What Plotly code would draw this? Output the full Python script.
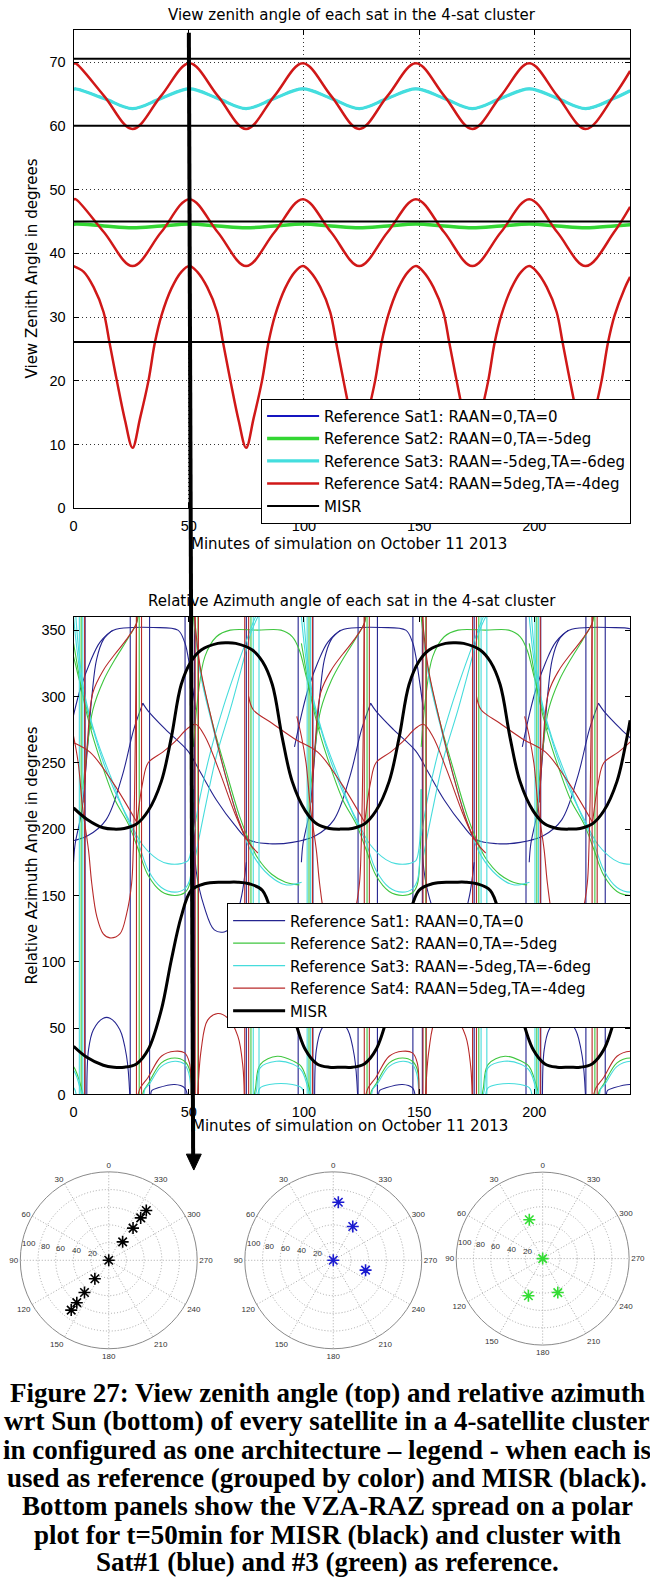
import plotly.graph_objects as go

W, H = 650, 1581
def px(x): return x / W
def py(y): return 1 - y / H

# ---------------- Top panel (view zenith angle) ----------------
TOP_T = [0, 0.8, 13.2, 25.6, 38.0, 50.3, 62.6, 74.9, 87.2, 99.5, 111.8, 124.0,
         136.3, 148.6, 160.9, 173.1, 185.5, 197.8, 210.0, 222.3, 234.6, 241.6]
RED_A = [69.7, 69.8, 64.7, 59.5, 64.7, 69.8, 64.7, 59.5, 64.7, 69.8, 64.7, 59.5,
         64.7, 69.8, 64.7, 59.5, 64.7, 69.8, 64.7, 59.5, 64.7, 68.6]
RED_B = [48.4, 48.5, 43.3, 38.0, 43.3, 48.5, 43.3, 38.0, 43.3, 48.5, 43.3, 38.0,
         43.3, 48.5, 43.3, 38.0, 43.3, 48.5, 43.3, 38.0, 43.3, 47.3]
CYAN_A = [65.7, 65.8, 64.3, 62.7, 64.3, 65.8, 64.3, 62.7, 64.3, 65.8, 64.3, 62.7,
          64.3, 65.8, 64.3, 62.7, 64.3, 65.8, 64.3, 62.7, 64.3, 65.5]
GREEN_A = [44.5, 44.6, 44.3, 44.0, 44.3, 44.6, 44.3, 44.0, 44.3, 44.6, 44.3, 44.0,
           44.3, 44.6, 44.3, 44.0, 44.3, 44.6, 44.3, 44.0, 44.3, 44.5]
RED_C_T = [0, 4.4, 8.7, 13.0, 15.6, 18.8, 22.4, 25.6, 28.9, 32.5, 35.3, 38.2, 42.5, 46.8, 50.3,
           53.7, 58.0, 62.3, 64.9, 68.1, 71.7, 74.9, 78.2, 81.8, 84.6, 87.5, 91.8, 96.1, 99.5,
           102.8, 107.1, 111.4, 114.0, 117.2, 120.8, 124.0, 127.3, 130.9, 133.7, 136.6, 140.9, 145.2, 148.6,
           151.9, 156.2, 160.5, 163.1, 166.3, 169.9, 173.1, 176.4, 180.0, 182.8, 185.7, 190.0, 194.3, 197.8,
           201.1, 205.4, 209.7, 212.3, 215.5, 219.1, 222.3, 225.6, 229.2, 232.0, 234.9, 239.2, 241.6]
RED_C = [38.0, 37.1, 34.7, 30.8, 26.0, 20.0, 13.7, 9.5, 14.2, 20.0, 26.0, 30.3, 34.5, 37.1, 38.0,
         37.1, 34.7, 30.8, 26.0, 20.0, 13.7, 9.5, 14.2, 20.0, 26.0, 30.3, 34.5, 37.1, 38.0,
         37.1, 34.7, 30.8, 26.0, 20.0, 13.7, 9.5, 14.2, 20.0, 26.0, 30.3, 34.5, 37.1, 38.0,
         37.1, 34.7, 30.8, 26.0, 20.0, 13.7, 9.5, 14.2, 20.0, 26.0, 30.3, 34.5, 37.1, 38.0,
         37.1, 34.7, 30.8, 26.0, 20.0, 13.7, 9.5, 14.2, 20.0, 26.0, 30.3, 34.5, 36.3]
MISR_VZA = [70.5, 60.0, 45.0, 26.1]
T_END = 241.6

# ---------------- Bottom panel (relative azimuth) ----------------
MISR_UP_T = [0, 5.75, 12.9, 17.5, 22, 27.3, 32.4, 38.1, 42.4, 46.7, 51, 55.4, 62.6, 66.5,
             70.4, 77.6, 82, 86.3, 90.6, 94.9, 100.6, 105.7, 111, 116.4,
             121, 126.2, 131.3, 137, 141.3, 145.6, 149.9, 154.3, 161.5, 165.4,
             169.3, 176.5, 180.9, 185.2, 189.5, 193.8, 199.5, 204.6, 209.9, 215.3,
             219.9, 225.1, 230.2, 235.9, 240.2, 241.6]
MISR_UP = [216, 207.5, 201, 200, 200.5, 203.8, 213.8, 236, 268.8, 308.8, 326.3, 335, 340, 340.5,
           340, 335, 326.3, 308.8, 268.8, 236, 213.8, 203.8, 200.5, 200,
           200.5, 203.8, 213.8, 236, 268.8, 308.8, 326.3, 335, 340, 340.5,
           340, 335, 326.3, 308.8, 268.8, 236, 213.8, 203.8, 200.5, 200,
           200.5, 203.8, 213.8, 236, 268.8, 282]
MISR_LO_T = [0, 5.75, 12.9, 17.5, 22, 27.3, 32.4, 38.1, 42.4, 46.7, 51, 56.8, 64, 66.5,
             71.3, 76.2, 82, 86.3, 90.6, 94.9, 100.6, 105.7, 111, 116.4,
             121, 126.2, 131.3, 137, 141.3, 145.6, 149.9, 155.7, 162.9, 165.4,
             170.2, 175.1, 180.9, 185.2, 189.5, 193.8, 199.5, 204.6, 209.9, 215.3,
             219.9, 225.1, 230.2, 235.9, 240.2, 241.6]
MISR_LO = [36.3, 28, 22, 20.5, 20.5, 23, 33.8, 63.8, 101, 133.8, 153.8, 158.8, 160, 160,
           160, 158.8, 153.8, 133.8, 101, 63.8, 33.8, 23, 20.5, 20.5,
           20.5, 23, 33.8, 63.8, 101, 133.8, 153.8, 158.8, 160, 160,
           160, 158.8, 153.8, 133.8, 101, 63.8, 33.8, 23, 20.5, 20.5,
           20.5, 23, 33.8, 63.8, 101, 106]

# the coloured pattern repeats once per orbit
ORBIT_STARTS = [-98.9, 0.0, 98.9, 197.8]

NAVY_SEGS = [
    ([-3, 0, 3, 7.2, 11.5, 17.3, 25.9, 34.5, 45.3, 48.2, 49.6, 51, 53],
     [262, 286, 306, 326, 341, 350, 352, 352, 350, 341, 331, 315, 290]),
    ([0.0, 0.7, 3.6, 5.8, 8, 10, 13, 17], [175, 189, 214, 256, 301, 328, 343, 350]),
    ([30, 32.4, 40, 49.6, 55, 62, 70, 76, 85, 95, 105, 113, 120, 125, 129],
     [295, 289, 275, 259, 243, 222, 203, 192, 189, 190, 195, 207, 240, 275, 295]),
    ([5.75, 6.5, 8.6, 12.9, 15.8, 20.1, 23, 24.4], [0, 33.8, 48.8, 57.5, 57.5, 48.8, 28.8, 0]),
    ([33.5, 34, 36.7, 43.9, 48.2, 49.3], [0, 3, 5, 7.5, 5, 0]),
    ([52.6, 53.2, 56.8, 61.1, 65.4, 68.3, 70.5, 73, 75], [200, 168.8, 141, 124, 122.5, 126, 133.8, 150, 175]),
]
NAVY_WRAPS = [5.0, 24.6, 33.0, 48.4, 52.5, 75.0, 97.5]

GREEN_SEGS = [
    ([0.0, 1.5, 4, 8, 13, 18, 24, 28, 32.4, 38.1, 43.9, 48.2, 50.3, 51.5, 52],
     [340, 325, 300, 272, 245, 222, 203, 185, 165, 153, 150, 152, 158, 180, 230]),
    ([4, 6, 8.4, 13, 18, 23, 27.3, 28], [230, 262, 290, 312, 328, 342, 355, 360]),
    ([52, 54, 57, 62, 68, 80, 90, 95, 98, 101, 104, 107], [262, 300, 330, 345, 350, 350, 350, 345, 335, 315, 295, 275]),
    ([30, 30.5, 32.4, 38.1, 43.9, 48.2, 50.3, 51], [0, 3, 8, 23.8, 27.5, 25, 18.8, 0]),
    ([78.5, 79, 81, 88.4, 95.6, 98.9, 102.5, 103], [0, 5, 22.5, 28.8, 25, 21, 3.8, 0]),
    ([52, 55, 60, 66, 72, 76, 80, 86, 92, 98], [360, 320, 282, 245, 210, 192, 178, 166, 160, 158]),
]
GREEN_WRAPS = [3.3, 28.5, 54.0, 77.0]

CYAN_SEGS = [
    ([0, 1.5, 4, 8, 13, 18, 24, 30, 36.7, 41, 46.7, 49.6, 51, 52],
     [360, 335, 305, 278, 250, 228, 207, 188, 177, 174, 174, 176, 185, 230]),
    ([1, 2.5, 5, 10, 16, 22, 28, 32.4, 38.1, 43.9, 48.2, 50.3, 51.5],
     [360, 330, 300, 268, 240, 213, 190, 169, 156, 152.5, 155, 161, 185]),
    ([52, 55, 60, 65, 70, 75, 78, 79], [195, 225, 262, 292, 318, 342, 356, 360]),
    ([53, 57, 62, 68, 73, 77, 80], [180, 215, 255, 290, 322, 348, 360]),
    ([30.5, 31, 33, 38, 44, 48, 50, 51], [0, 4, 8, 21, 25, 23, 16, 0]),
    ([79, 79.5, 81, 88, 95, 99, 102, 102.5], [0, 4, 20, 25, 23, 18, 3, 0]),
    ([80, 81, 85, 95, 99, 100], [0, 5, 7.5, 7.5, 5, 0]),
    ([52.5, 55, 60, 66, 72, 78, 85, 92, 99], [360, 318, 280, 240, 205, 180, 165, 158, 160]),
]
CYAN_WRAPS = [2.5, 4.0, 78.0, 80.5]

RED_SEGS = [
    ([4.5, 6, 8.4, 13, 18, 23, 27.3, 27.6], [220, 265, 303, 320, 332, 343, 355, 360]),
    ([-2, 0, 2, 4, 6.5, 7.9, 10.1, 12.9, 15.8, 20.1, 23, 25.2, 25.9, 26.5, 27, 27.3],
     [285, 270, 250, 215, 184, 159, 134, 121, 118, 121, 136, 159, 184, 230, 300, 360]),
    ([28, 29, 32.4, 38.1, 43.9, 48.2, 50.3, 51], [0, 5, 13, 28.8, 32.5, 31.3, 23.8, 0]),
    ([27.5, 30, 32.4, 38.7, 44, 49.6, 53, 57, 63, 70, 75],
     [205, 235, 250, 258, 266, 276, 279, 270, 245, 212, 192]),
    ([76, 78, 86, 96, 106, 116, 126.4], [300, 290, 280, 268, 258, 235, 205]),
    ([53.9, 55.4, 58.2, 62.6, 67, 71.3, 73.5, 74.1], [0, 33.8, 56, 61, 57.5, 44, 21, 0]),
    ([52.5, 55, 60, 66, 72, 76, 80], [360, 322, 282, 240, 205, 190, 182]),
]
RED_WRAPS = [4.8, 27.3, 29.5, 52.8, 54.2, 74.3, 76.0]

# ---------------- Polar panels (t = 50 min) ----------------
POL_MISR_R = [0, 26.1, 45.6, 60.0, 70.5, 26.1, 45.6, 60.0, 70.5]
POL_MISR_TH = [0, 323, 323, 323, 323, 143, 143, 143, 143]
POL_S1_R = [0, 65.8, 44.1, 38.2]
POL_S1_TH = [0, 355, 330, 253]
POL_S3_R = [0, 47.5, 46.0, 43.0]
POL_S3_TH = [0, 19, 159, 204]
POL_R_TICKS = [100, 80, 60, 40, 20]

LEG = ["Reference Sat1: RAAN=0,TA=0", "Reference Sat2: RAAN=0,TA=-5deg",
       "Reference Sat3: RAAN=-5deg,TA=-6deg", "Reference Sat4: RAAN=5deg,TA=-4deg", "MISR"]

CAPTION = ["Figure 27: View zenith angle (top) and relative azimuth",
           "wrt Sun (bottom) of every satellite in a 4-satellite cluster",
           "in configured as one architecture \u2013 legend - when each is",
           "used as reference (grouped by color) and MISR (black).",
           "Bottom panels show the VZA-RAZ spread on a polar",
           "plot for t=50min for MISR (black) and cluster with",
           "Sat#1 (blue) and #3 (green) as reference."]


def build(segs, wraps):
    xs, ys = [], []
    for s in ORBIT_STARTS:
        for tt, vv in segs:
            xs += [t + s for t in tt] + [None]
            ys += list(vv) + [None]
        for w in wraps:
            xs += [w + s, w + s, None]
            ys += [0, 360, None]
    return xs, ys


def hlines(vals):
    xs, ys = [], []
    for v in vals:
        xs += [0, T_END, None]
        ys += [v, v, None]
    return xs, ys


fig = go.Figure()
SANS = "DejaVu Sans"
TICKF = dict(family="Liberation Sans, Arial", size=14.5, color="black")

sp = dict(shape="spline", smoothing=1.0)
fig.add_trace(go.Scatter(x=TOP_T + [None] + TOP_T, y=CYAN_A + [None] + GREEN_A, mode="lines",
                         line=dict(color="#1515c0", width=2, **sp), name=LEG[0], legend="legend"))
fig.add_trace(go.Scatter(x=TOP_T, y=GREEN_A, mode="lines",
                         line=dict(color="#33d633", width=3.5, **sp), name=LEG[1], legend="legend"))
fig.add_trace(go.Scatter(x=TOP_T, y=CYAN_A, mode="lines",
                         line=dict(color="#44dede", width=3.2, **sp), name=LEG[2], legend="legend"))
fig.add_trace(go.Scatter(x=TOP_T + [None] + TOP_T + [None] + RED_C_T,
                         y=RED_A + [None] + RED_B + [None] + RED_C, mode="lines",
                         line=dict(color="#d01818", width=2.5, **sp), name=LEG[3], legend="legend"))
hx, hy = hlines(MISR_VZA)
fig.add_trace(go.Scatter(x=hx, y=hy, mode="lines", line=dict(color="black", width=2),
                         name=LEG[4], legend="legend"))

LEG2 = list(LEG)
LEG2[2] = LEG[2] + "\u00a0" * 7   # the lower legend box is wider in the original
for segs, wraps, col, name in [(NAVY_SEGS, NAVY_WRAPS, "#24248f", LEG2[0]),
                               (GREEN_SEGS, GREEN_WRAPS, "#3fc63f", LEG2[1]),
                               (CYAN_SEGS, CYAN_WRAPS, "#46dcdc", LEG2[2]),
                               (RED_SEGS, RED_WRAPS, "#b82a2a", LEG2[3])]:
    bx, by = build(segs, wraps)
    fig.add_trace(go.Scatter(x=bx, y=by, mode="lines", xaxis="x2", yaxis="y2",
                             line=dict(color=col, width=1.1, **sp), name=name, legend="legend2"))
fig.add_trace(go.Scatter(x=MISR_UP_T + [None] + MISR_LO_T, y=MISR_UP + [None] + MISR_LO,
                         mode="lines", xaxis="x2", yaxis="y2",
                         line=dict(color="black", width=3, **sp), name=LEG2[4], legend="legend2"))

for i, (rr, th, col) in enumerate([(POL_MISR_R, POL_MISR_TH, "black"),
                                   (POL_S1_R, POL_S1_TH, "#1a1ad0"),
                                   (POL_S3_R, POL_S3_TH, "#33dd33")]):
    fig.add_trace(go.Scatterpolar(r=rr, theta=th, mode="markers", subplot="polar" if i == 0 else f"polar{i+1}",
                                  marker=dict(symbol="asterisk-open", size=10, color=col,
                                              line=dict(color=col, width=1.6)),
                                  showlegend=False))

axis_common = dict(showline=True, linecolor="black", linewidth=1, mirror="ticks", ticks="inside",
                   ticklen=5, tickcolor="black", tickfont=TICKF, zeroline=False, ticklabelstandoff=4)

x_dom = [px(70), px(630)]
GRID = dict(showgrid=True, gridcolor="#333", griddash="1px,3px", gridwidth=1)
LEGF = dict(family=SANS, size=15, color="black")
layout = dict(
    width=W, height=H, margin=dict(l=0, r=0, t=0, b=0),
    paper_bgcolor="white", plot_bgcolor="white",
    xaxis=dict(domain=x_dom, range=[0, T_END], tickvals=[0, 50, 100, 150, 200], anchor="y",
               **GRID, **axis_common),
    yaxis=dict(domain=[py(511), py(30.3)], range=[0, 75], tickvals=list(range(0, 71, 10)), anchor="x",
               **GRID, **axis_common),
    xaxis2=dict(domain=x_dom, range=[0, T_END], tickvals=[0, 50, 100, 150, 200], anchor="y2",
                showgrid=False, **axis_common),
    yaxis2=dict(domain=[py(1100), py(620)], range=[0, 360], tickvals=list(range(0, 351, 50)), anchor="x2",
                showgrid=False, **axis_common),
    legend=dict(x=px(631), y=py(400.7), xanchor="right", yanchor="top", bgcolor="white",
                bordercolor="black", borderwidth=1, font=LEGF, itemwidth=52, tracegroupgap=0),
    legend2=dict(x=px(631), y=py(908), xanchor="right", yanchor="top", bgcolor="white",
                 bordercolor="black", borderwidth=1, font=LEGF, itemwidth=52, tracegroupgap=0),
)

pol_geo = [(105.4, 1266.7, 89), (331.3, 1266.7, 89), (542.0, 1265.0, 87)]
for i, (cx, cy, rp) in enumerate(pol_geo):
    key = "polar" if i == 0 else f"polar{i+1}"
    layout[key] = dict(
        domain=dict(x=[px(cx - rp), px(cx + rp)], y=[py(cy + rp), py(cy - rp)]),
        bgcolor="white",
        angularaxis=dict(rotation=90, direction="counterclockwise", tickvals=list(range(0, 360, 30)),
                         ticktext=[str(v) for v in range(0, 360, 30)], ticks="",
                         showline=True, linecolor="#8a8a8a", linewidth=1,
                         gridcolor="#a8a8a8", griddash="1px,2px",
                         tickfont=dict(family="Liberation Sans", size=8, color="#333")),
        radialaxis=dict(range=[0, 100], tickvals=[20, 40, 60, 80, 100], showline=False, ticks="",
                        showticklabels=False, gridcolor="#a8a8a8", griddash="1px,2px"),
    )
fig.update_layout(**layout)

ann = []
def txt(x, y, s, size=15, family=SANS, angle=0, color="black", **kw):
    ann.append(dict(x=px(x), y=py(y), xref="paper", yref="paper", text=s, showarrow=False,
                    font=dict(family=family, size=size, color=color), textangle=angle,
                    xanchor="center", yanchor="middle", **kw))

txt(350, 15, "View zenith angle of each sat in the 4-sat cluster")
txt(347, 547, "Minutes of simulation on October 11 2013")
txt(28, 270, "View Zenith Angle in degrees", angle=-90)
txt(350, 604, "Relative Azimuth angle of each sat in the 4-sat cluster")
txt(348, 1132, "Minutes of simulation on October 11 2013")
txt(28, 860, "Relative Azimuth Angle in degrees", angle=-90)

# radial tick labels of the polar panels: a slightly rising row above the 90-degree spoke
for cx, cy, rp in pol_geo:
    for rv in POL_R_TICKS:
        d = rp * rv / 100.0 * 0.9
        txt(cx - d, cy - 5 - d * 0.145, str(rv), size=8, family="Liberation Sans", color="#333")

cap_y = [1400, 1428.5, 1457, 1485.5, 1514, 1542.5, 1570]
for yy, line in zip(cap_y, CAPTION):
    txt(325, yy, "<b>" + line + "</b>", size=27, family="Liberation Serif, Times New Roman, serif")
fig.update_layout(annotations=ann)

fig.add_shape(type="line", xref="paper", yref="paper", x0=px(186), y0=py(33), x1=px(190.3), y1=py(1162),
              line=dict(color="black", width=4))
fig.add_shape(type="path", xref="paper", yref="paper",
              path=f"M{px(183.5)},{py(1160)} L{px(198.5)},{py(1160)} L{px(191)},{py(1176)} Z",
              fillcolor="black", line=dict(color="black", width=1))

fig.write_html("out.html")
